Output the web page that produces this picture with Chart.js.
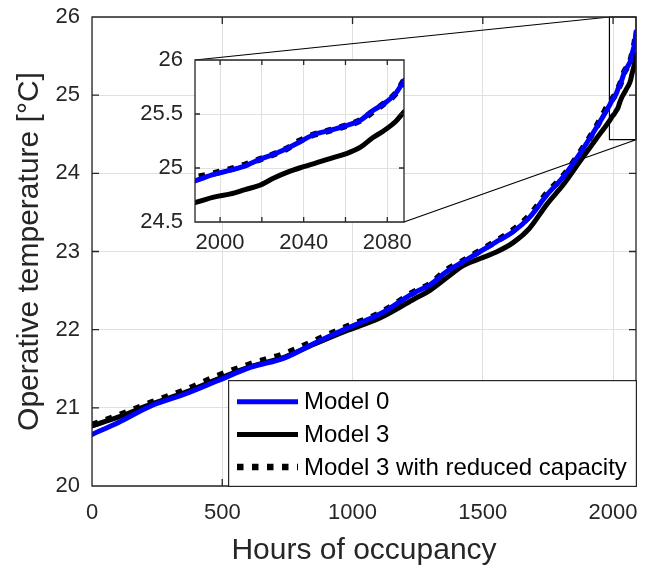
<!DOCTYPE html>
<html><head><meta charset="utf-8">
<script src="https://cdn.jsdelivr.net/npm/chart.js@4.4.1/dist/chart.umd.min.js"></script>
<style>
html,body{margin:0;padding:0;background:#fff;}
#wrap{position:relative;width:650px;height:571px;}
#main{position:absolute;left:0;top:0;}
#inset{position:absolute;left:120px;top:40px;}
#legend{position:absolute;left:228px;top:380px;}
</style></head><body>
<div id="wrap"><canvas id="main" width="650" height="571"></canvas><canvas id="inset" width="300" height="230"></canvas><canvas id="legend" width="409" height="107"></canvas></div>
<script>
// ---------- data ----------
const hours = [0, 100, 230, 360, 485, 610, 740, 850, 980, 1105, 1230, 1300, 1360, 1425, 1490, 1550, 1615, 1680, 1745, 1810, 1870, 1935, 1988, 1997, 2005, 2012, 2019, 2026, 2032, 2038, 2045, 2053, 2060, 2067, 2073, 2078, 2084, 2088];
const model0 = [20.66, 20.81, 21.03, 21.18, 21.35, 21.52, 21.64, 21.82, 22.02, 22.20, 22.46, 22.58, 22.74, 22.87, 23.00, 23.12, 23.25, 23.44, 23.72, 23.96, 24.24, 24.58, 24.88, 24.94, 24.98, 25.02, 25.08, 25.13, 25.18, 25.24, 25.31, 25.35, 25.39, 25.44, 25.53, 25.59, 25.69, 25.81];
const model3 = [20.77, 20.88, 21.05, 21.20, 21.37, 21.53, 21.65, 21.81, 21.99, 22.15, 22.38, 22.51, 22.66, 22.82, 22.91, 22.99, 23.11, 23.30, 23.60, 23.86, 24.14, 24.44, 24.68, 24.73, 24.76, 24.80, 24.84, 24.91, 24.96, 25.00, 25.04, 25.09, 25.13, 25.19, 25.28, 25.34, 25.43, 25.52];
const model3Reduced = [20.78, 20.90, 21.07, 21.23, 21.41, 21.56, 21.69, 21.85, 22.04, 22.21, 22.47, 22.59, 22.76, 22.88, 23.01, 23.13, 23.27, 23.46, 23.74, 23.97, 24.25, 24.59, 24.91, 24.95, 24.99, 25.03, 25.08, 25.13, 25.18, 25.25, 25.31, 25.35, 25.39, 25.44, 25.52, 25.59, 25.69, 25.81];
const seriesNames = ['Model 0', 'Model 3', 'Model 3 with reduced capacity'];
const mainXTicks = [0, 500, 1000, 1500, 2000];
const mainYTicks = [20, 21, 22, 23, 24, 25, 26];
const mainXRange = [0, 2088];
const mainYRange = [20, 26];
const insetXTicks = [2000, 2020, 2040, 2060, 2080];
const insetXLabels = [2000, 2040, 2080];
const insetYTicks = [24.5, 25, 25.5, 26];
const insetXRange = [1988, 2088];
const insetYRange = [24.5, 26];
const zoomBoxX = [1986, 2088];
const zoomBoxY = [24.43, 26];
const xTitle = 'Hours of occupancy';
const yTitle = 'Operative temperature [°C]';

// ---------- styles ----------
const FONT = "'Liberation Sans', Arial, Helvetica, sans-serif";
const TXT = '#262626';
const GRID = '#e0e0e0';
const INSET_OFFSET = {x: 120, y: 40};
const styles = [
  {color: '#0000ff', width: 5, dash: [], cap: 'round'},
  {color: '#000000', width: 5, dash: [], cap: 'round'},
  {color: '#000000', width: 6.5, dash: [6.5, 8.5], cap: 'butt'}
];
function makeDatasets() {
  return [model0, model3, model3Reduced].map((arr, i) => ({
    label: seriesNames[i],
    data: hours.map((h, k) => ({x: h, y: arr[k]})),
    borderColor: styles[i].color,
    borderWidth: styles[i].width,
    borderDash: styles[i].dash,
    borderCapStyle: styles[i].cap,
    borderJoinStyle: 'round',
    pointRadius: 0,
    fill: false,
    cubicInterpolationMode: 'monotone',
    clip: 0
  }));
}
function noPad(s) { s.paddingTop = 0; s.paddingBottom = 0; s.paddingLeft = 0; s.paddingRight = 0; }
function drawFrame(chart, len) {
  const {ctx, chartArea: a, scales: {x, y}} = chart;
  ctx.save();
  ctx.strokeStyle = TXT; ctx.lineWidth = 1.3;
  ctx.beginPath();
  ctx.rect(a.left, a.top, a.right - a.left, a.bottom - a.top);
  x.ticks.forEach(t => {
    const p = x.getPixelForValue(t.value);
    ctx.moveTo(p, a.bottom); ctx.lineTo(p, a.bottom - len);
    ctx.moveTo(p, a.top); ctx.lineTo(p, a.top + len);
  });
  y.ticks.forEach(t => {
    const p = y.getPixelForValue(t.value);
    ctx.moveTo(a.left, p); ctx.lineTo(a.left + len, p);
    ctx.moveTo(a.right, p); ctx.lineTo(a.right - len, p);
  });
  ctx.stroke();
  ctx.beginPath();
  ctx.restore();
}
const common = {
  responsive: false, animation: false, devicePixelRatio: 1, events: [],
  plugins: {legend: {display: false}, tooltip: {enabled: false}}
};
Chart.defaults.font.family = FONT;
Chart.defaults.color = TXT;

// ---------- inset (plot area 195..404 x 60..222 on the page) ----------
const insetChart = new Chart(document.getElementById('inset'), {
  type: 'line',
  data: {datasets: makeDatasets()},
  options: Object.assign({}, common, {
    layout: {padding: {left: 0, top: 20, right: 16, bottom: 0}},
    scales: {
      x: {type: 'linear', min: insetXRange[0], max: insetXRange[1],
        afterBuildTicks: s => { s.ticks = insetXTicks.map(v => ({value: v})); },
        afterFit: s => { s.height = 48; noPad(s); },
        grid: {color: GRID, drawTicks: false}, border: {display: false},
        ticks: {padding: 8, font: {size: 22}, color: TXT, maxRotation: 0, autoSkip: false,
          callback: v => insetXLabels.includes(v) ? String(v) : ''}},
      y: {type: 'linear', min: insetYRange[0], max: insetYRange[1],
        afterBuildTicks: s => { s.ticks = insetYTicks.map(v => ({value: v})); },
        afterFit: s => { s.width = 75; noPad(s); },
        grid: {color: GRID, drawTicks: false}, border: {display: false},
        ticks: {padding: 12, font: {size: 22}, color: TXT, callback: v => String(v)}}
    }
  }),
  plugins: [{
    id: 'insetFrame',
    beforeDraw(chart) {
      const a = chart.chartArea, ctx = chart.ctx;
      ctx.save(); ctx.fillStyle = '#fff';
      ctx.fillRect(a.left, a.top, a.right - a.left, a.bottom - a.top);
      ctx.restore();
    },
    afterDatasetsDraw(chart) { drawFrame(chart, 5); }
  }]
});

// ---------- main ----------
const mainChart = new Chart(document.getElementById('main'), {
  type: 'line',
  data: {datasets: makeDatasets()},
  options: Object.assign({}, common, {
    layout: {padding: {left: 0, top: 17, right: 14, bottom: 0}},
    scales: {
      x: {type: 'linear', min: mainXRange[0], max: mainXRange[1],
        afterBuildTicks: s => { s.ticks = mainXTicks.map(v => ({value: v})); },
        afterFit: s => { s.height = 571 - 486; noPad(s); },
        grid: {color: GRID, drawTicks: false}, border: {display: false},
        ticks: {padding: 14, font: {size: 22}, color: TXT, maxRotation: 0, callback: v => String(v)},
        title: {display: true, text: xTitle, font: {size: 30}, color: TXT, padding: {top: 0, bottom: 2}}},
      y: {type: 'linear', min: mainYRange[0], max: mainYRange[1],
        afterBuildTicks: s => { s.ticks = mainYTicks.map(v => ({value: v})); },
        afterFit: s => { s.width = 92; noPad(s); },
        grid: {color: GRID, drawTicks: false}, border: {display: false},
        ticks: {padding: 12, font: {size: 22}, color: TXT, callback: v => String(v)},
        title: {display: true, text: yTitle, font: {size: 30}, color: TXT, padding: {top: 12, bottom: 0}}}
    }
  }),
  plugins: [{
    id: 'zoomMarks',
    beforeDatasetsDraw(chart) {
      const {ctx, scales: {x, y}} = chart;
      const l = x.getPixelForValue(zoomBoxX[0]), r = x.getPixelForValue(zoomBoxX[1]);
      const t = y.getPixelForValue(zoomBoxY[1]), b = y.getPixelForValue(zoomBoxY[0]);
      const ia = insetChart.chartArea, ox = INSET_OFFSET.x, oy = INSET_OFFSET.y;
      ctx.save(); ctx.strokeStyle = '#000'; ctx.lineWidth = 1.2;
      ctx.beginPath();
      ctx.rect(l, t, r - l, b - t);
      ctx.moveTo(ia.left + ox, ia.top + oy); ctx.lineTo(l, t);
      ctx.moveTo(ia.right + ox, ia.bottom + oy); ctx.lineTo(r, b);
      ctx.stroke();
      ctx.beginPath();
      ctx.restore();
    },
    afterDatasetsDraw(chart) { drawFrame(chart, 7); }
  }]
});

// ---------- legend (own small canvas over the plot's lower right) ----------
(function drawLegend() {
  const cv = document.getElementById('legend');
  const ctx = cv.getContext('2d');
  ctx.fillStyle = '#fff';
  ctx.fillRect(0, 0, cv.width, cv.height);
  ctx.strokeStyle = TXT; ctx.lineWidth = 1.2;
  ctx.strokeRect(0.6, 0.6, cv.width - 1.2, cv.height - 1.2);
  mainChart.data.datasets.forEach((ds, i) => {
    const yy = 21.7 + i * 32.7;
    ctx.beginPath();
    ctx.strokeStyle = ds.borderColor; ctx.lineWidth = ds.borderWidth;
    ctx.setLineDash(ds.borderDash); ctx.lineCap = 'butt';
    ctx.moveTo(9, yy); ctx.lineTo(70, yy); ctx.stroke();
    ctx.setLineDash([]);
    ctx.fillStyle = '#000'; ctx.font = '24px ' + FONT;
    ctx.textBaseline = 'middle'; ctx.textAlign = 'left';
    ctx.fillText(ds.label, 76, yy + 1);
  });
})();
</script>
</body></html>
